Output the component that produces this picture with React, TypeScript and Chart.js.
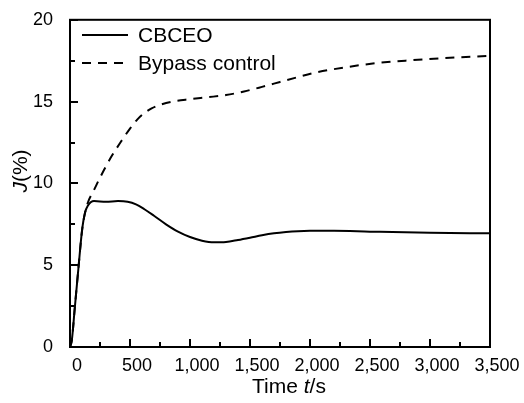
import React, { useEffect, useRef } from "react";
import { Chart, registerables } from "chart.js";

Chart.register(...registerables);

const timeCBCEO = [0, 15, 40, 70, 100, 125, 150, 200, 300, 400, 480, 550, 620, 700, 800, 900, 1000, 1100, 1200, 1300, 1400, 1500, 1600, 1700, 1800, 1900, 2000, 2200, 2500, 3000, 3500];
const jCBCEO = [0, 0.4, 2.4, 4.8, 7.1, 8.2, 8.65, 8.92, 8.88, 8.92, 8.88, 8.72, 8.42, 8.02, 7.5, 7.05, 6.72, 6.5, 6.4, 6.42, 6.54, 6.68, 6.83, 6.95, 7.03, 7.08, 7.1, 7.1, 7.05, 6.98, 6.95];

const timeBypass = [0, 15, 40, 70, 100, 125, 150, 200, 250, 300, 350, 420, 500, 560, 620, 680, 750, 850, 1000, 1150, 1300, 1450, 1600, 1750, 1900, 2050, 2300, 2550, 2850, 3100, 3500];
const jBypass = [0, 0.4, 2.4, 4.8, 7.1, 8.2, 8.85, 9.6, 10.35, 11.05, 11.7, 12.5, 13.35, 13.9, 14.3, 14.58, 14.8, 15.0, 15.15, 15.27, 15.4, 15.62, 15.9, 16.2, 16.5, 16.78, 17.1, 17.35, 17.53, 17.65, 17.8];

const seriesLabels = ["CBCEO", "Bypass control"];
const xTitle = ["Time ", "t", "/s"];
const yTitle = ["J", "(%)"];

const FONT = "'Liberation Sans', Arial, sans-serif";

const framePlugin = {
  id: "frame",
  afterDraw(chart: any) {
    const ctx = chart.ctx;
    const a = chart.chartArea;
    const xs = chart.scales.x;
    const ys = chart.scales.y;
    ctx.save();
    ctx.strokeStyle = "#000";
    ctx.lineWidth = 2;
    ctx.strokeRect(a.left, a.top, a.right - a.left, a.bottom - a.top);
    ctx.lineWidth = 2;
    ctx.beginPath();
    xs.ticks.forEach((t: any) => {
      const px = Math.round(xs.getPixelForValue(t.value));
      const len = t.value % 500 === 0 ? 8 : 5;
      ctx.moveTo(px, a.bottom);
      ctx.lineTo(px, a.bottom - len);
    });
    ys.ticks.forEach((t: any) => {
      const py = Math.round(ys.getPixelForValue(t.value));
      const len = t.value % 5 === 0 ? 8 : 5;
      ctx.moveTo(a.left, py);
      ctx.lineTo(a.left + len, py);
    });
    ctx.stroke();

    // legend
    const ds = chart.data.datasets;
    const lx0 = a.left + 12;
    const lx1 = a.left + 58;
    const rows = [35, 63];
    ds.forEach((d: any, i: number) => {
      const y = rows[i];
      ctx.beginPath();
      ctx.setLineDash(d.borderDash || []);
      ctx.lineWidth = 2;
      ctx.strokeStyle = d.borderColor;
      ctx.moveTo(lx0, y);
      ctx.lineTo(lx1, y);
      ctx.stroke();
      ctx.setLineDash([]);
      ctx.fillStyle = "#000";
      ctx.font = `21px ${FONT}`;
      ctx.textBaseline = "middle";
      ctx.textAlign = "left";
      ctx.fillText(d.label, lx0 + 56, y + 1);
    });

    // x title
    ctx.textBaseline = "middle";
    ctx.font = `21px ${FONT}`;
    const w0 = ctx.measureText(xTitle[0]).width;
    ctx.font = `italic 21px ${FONT}`;
    const w1 = ctx.measureText(xTitle[1]).width;
    ctx.font = `21px ${FONT}`;
    const w2 = ctx.measureText(xTitle[2]).width;
    const total = w0 + w1 + w2;
    let x = 289 - total / 2;
    const ty = 387;
    ctx.fillText(xTitle[0], x, ty);
    x += w0;
    ctx.font = `italic 21px ${FONT}`;
    ctx.fillText(xTitle[1], x, ty);
    x += w1;
    ctx.font = `21px ${FONT}`;
    ctx.fillText(xTitle[2], x, ty);

    // y title
    ctx.save();
    ctx.translate(21, 171);
    ctx.rotate(-Math.PI / 2);
    ctx.font = `italic 21px ${FONT}`;
    const v0 = ctx.measureText(yTitle[0]).width;
    ctx.font = `21px ${FONT}`;
    const v1 = ctx.measureText(yTitle[1]).width;
    let yx = -(v0 + v1) / 2;
    ctx.font = `italic 21px ${FONT}`;
    ctx.fillText(yTitle[0], yx, 0);
    yx += v0;
    ctx.font = `21px ${FONT}`;
    ctx.fillText(yTitle[1], yx, 0);
    ctx.restore();

    ctx.restore();
  },
};

export default function App() {
  const ref = useRef<HTMLCanvasElement | null>(null);
  useEffect(() => {
    document.body.style.margin = "0";
    const c = ref.current;
    if (!c) return;
    const chart = new Chart(c, {
      type: "line",
      data: {
        datasets: [
          {
            label: seriesLabels[0],
            data: timeCBCEO.map((t, i) => ({ x: t, y: jCBCEO[i] })),
            borderColor: "#000",
            borderWidth: 2,
            pointRadius: 0,
            cubicInterpolationMode: "monotone",
            fill: false,
          },
          {
            label: seriesLabels[1],
            data: timeBypass.map((t, i) => ({ x: t, y: jBypass[i] })),
            borderColor: "#000",
            borderWidth: 2,
            borderDash: [9, 7],
            pointRadius: 0,
            cubicInterpolationMode: "monotone",
            fill: false,
          },
        ],
      },
      options: {
        animation: false,
        responsive: false,
        devicePixelRatio: 1,
        layout: { padding: { left: 0, top: 15, right: 34, bottom: 0 } },
        plugins: { legend: { display: false }, tooltip: { enabled: false } },
        scales: {
          x: {
            type: "linear",
            min: 0,
            max: 3500,
            grid: { display: false },
            border: { display: false },
            afterFit: (s: any) => {
              s.height = 56;
            },
            ticks: {
              stepSize: 250,
              autoSkip: false,
              maxRotation: 0,
              padding: 0,
              labelOffset: 7,
              color: "#000",
              font: { family: FONT, size: 18 },
              callback: (v: any) => (v % 500 === 0 ? Number(v).toLocaleString("en-US") : ""),
            },
          },
          y: {
            type: "linear",
            min: 0,
            max: 20,
            grid: { display: false },
            border: { display: false },
            afterFit: (s: any) => {
              s.width = 70;
            },
            ticks: {
              stepSize: 2.5,
              autoSkip: false,
              padding: 9,
              color: "#000",
              font: { family: FONT, size: 18 },
              callback: (v: any) => (v % 5 === 0 ? String(v) : ""),
            },
          },
        },
      },
      plugins: [framePlugin],
    } as any);
    return () => chart.destroy();
  }, []);
  return <canvas ref={ref} width={524} height={403} style={{ display: "block" }} />;
}
